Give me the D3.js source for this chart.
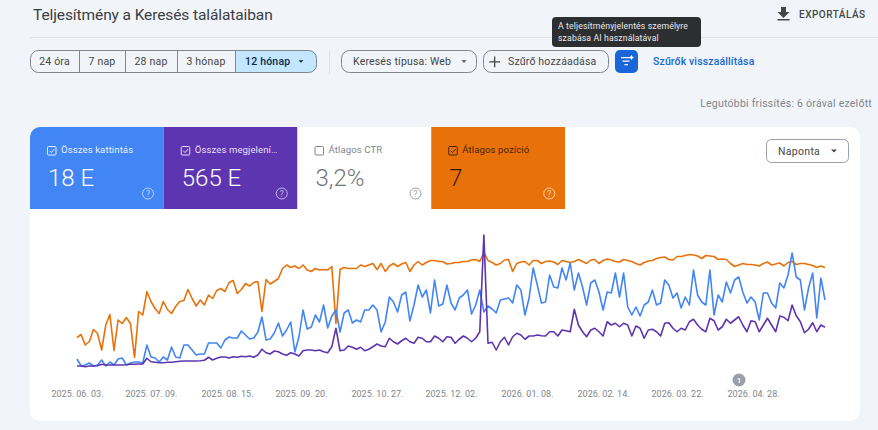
<!DOCTYPE html>
<html>
<head>
<meta charset="utf-8">
<script src="https://cdn.jsdelivr.net/npm/d3@7"></script>
<style>
html,body{margin:0;padding:0;background:#f1f4f9;overflow:hidden}
text{font-family:Roboto,sans-serif}
</style>
</head>
<body>
<svg id="report" width="878" height="430"></svg>
<script>
// Readings are taken every second day, starting on the first tick date.
const startDate = "2025. 06. 03.";
const stepDays = 2;
const tickLabels = ["2025. 06. 03.","2025. 07. 09.","2025. 08. 15.","2025. 09. 20.","2025. 10. 27.","2025. 12. 02.","2026. 01. 08.","2026. 02. 14.","2026. 03. 22.","2026. 04. 28."];

const clicks = [13,6,7,9,6,7,12,6,10,7,13,14,7,9,10,10,9,27,15,14,10,15,12,25,15,14,27,27,22,17,18,18,29,29,29,24,32,35,34,34,41,37,33,34,40,
55,32,33,39,49,36,42,50,20,35,62,43,45,57,50,67,44,56,62,40,59,62,49,52,50,62,62,67,62,40,50,75,70,60,77,80,51,67,87,75,82,59,92,66,68,87,
69,62,74,77,82,58,67,82,60,66,63,59,72,73,74,69,87,82,57,74,104,87,69,70,97,85,84,104,92,109,82,99,85,67,89,92,80,62,80,79,99,75,99,65,57,
65,56,67,70,82,67,69,92,87,74,79,64,75,67,102,77,70,67,102,57,77,70,90,79,92,95,80,69,75,70,52,79,79,69,64,89,84,97,119,95,92,62,84,99,54,94,72];

const impressions = [240,240,210,240,240,250,310,280,280,280,280,280,290,310,310,320,320,550,410,390,370,370,390,390,410,430,440,440,440,440,450,470,590,480,550,600,600,560,610,590,630,610,640,590,680,
910,770,720,840,810,720,670,770,720,640,850,880,880,850,880,810,770,1010,1750,850,880,1040,990,910,990,850,910,1010,1120,1040,1010,1350,1210,1120,1250,1350,1210,1150,1390,1350,1210,1210,1440,1350,1210,1410,
1390,1150,1310,1440,1350,1210,1350,1610,5480,1150,1190,880,1210,1390,1080,1410,1550,1480,1310,1440,1440,1480,1450,1440,1610,1610,1440,1680,1650,1610,2510,1880,1610,1410,1680,1750,1610,1440,2010,1880,1950,1810,1950,1880,1440,
1840,1750,1350,1680,1710,1610,1440,1950,1970,1750,1610,1750,1680,2010,2110,1880,1710,1610,2150,2050,1680,1810,2110,1950,2080,2210,1880,1610,2050,2010,1610,1880,2150,1880,1610,2240,2190,2050,2680,2250,2010,1570,1710,1970,1610,1880,1790];

const positions = [21.1,20.5,22.6,21.9,19.5,20.3,23.6,18.6,16.5,23.7,17.6,18.3,17.1,18.3,25.1,15.9,16.6,11.9,13.9,15.3,16.3,13.9,15.5,16.3,14.9,13.9,13.7,11.5,13.3,14.8,13.6,14.6,12.6,13.3,11.7,11.3,11.9,10.1,9.7,12.3,11.5,10.3,10.8,10.1,9.9,
15.9,9.5,10.4,9.9,9.3,7.3,6.6,7.1,6.8,7.3,6.6,7.6,7.9,7.3,7.6,7.5,7.6,6.9,18.3,7.5,7.1,7.3,7.3,7.3,6.6,6.9,6.6,6.3,7.5,6.3,7.9,6.8,6.3,6.9,6.4,6.1,7.9,6.6,5.9,6.6,6.1,5.7,5.7,5.9,5.9,6.4,
6.3,6.1,6.1,5.9,5.9,5.6,5.5,5.9,4.1,5.7,6.1,6.6,6.3,5.6,5.5,7.9,6.3,6,5.9,6.6,5.7,5.7,6.3,5.9,5.8,6,6.5,5.7,5.9,6.1,5.9,5.5,5.9,6.3,5.6,5.5,6.3,5.7,5.4,5.6,5.9,6,5.5,5.7,5.9,
6.3,6.6,6.1,5.8,5.7,5.3,5.1,5,5.5,5.6,4.9,4.9,4.7,4.5,4.6,4.8,5.3,4.7,4.8,4.9,5.5,5.4,5.5,6.3,6.9,6.6,6.3,6.5,6.5,6.6,6.8,6.3,6,6.6,6.4,6.2,6.8,6.1,5.9,6.5,6.3,6.3,6.5,6.7,7.1,6.8,7.1];

const metricCards = [
  {label:"Összes kattintás", value:"18 E", fill:"#4285f4", ink:"#fff", sub:"#e3edff", help:"#bcd4fb", checked:true},
  {label:"Összes megjelení…", value:"565 E", fill:"#5e35b1", ink:"#fff", sub:"#e6dff5", help:"#c9b8ea", checked:true},
  {label:"Átlagos CTR", value:"3,2%", fill:"#fff", ink:"#70757a", sub:"#80868b", help:"#9aa0a6", checked:false},
  {label:"Átlagos pozíció", value:"7", fill:"#e8710a", ink:"#3a1c02", sub:"#4a2403", help:"#fbd3ad", checked:true}
];
const rangeTabs = ["24 óra","7 nap","28 nap","3 hónap","12 hónap"];
const rangeEdges = [30,79,125,177,235,317];

const svg = d3.select("#report");
const parseDay = d3.timeParse("%Y. %m. %d.");
const first = parseDay(startDate);
const days = clicks.map((_, i) => d3.timeDay.offset(first, i * stepDays));

function label(x, y, s, size, fill, opts = {}) {
  return svg.append("text").attr("x", x).attr("y", y).attr("font-size", size).attr("fill", fill)
    .attr("text-anchor", opts.anchor || "start").attr("font-weight", opts.weight || 400)
    .attr("letter-spacing", opts.spacing || 0).text(s);
}
function outlined(x, y, w, h, r = 8) {
  return svg.append("rect").attr("x", x + .5).attr("y", y + .5).attr("width", w - 1).attr("height", h - 1)
    .attr("rx", r).attr("fill", "none").attr("stroke", "#80868b").attr("stroke-width", 1);
}
function caret(cx, cy, fill = "#444746", half = 3) {
  svg.append("path").attr("d", `M${cx - half},${cy - half / 2}h${2 * half}l${-half},${half}z`).attr("fill", fill);
}

// Page header
label(33, 20, "Teljesítmény a Keresés találataiban", 15.5, "#3c4043", {spacing:-.1});
svg.append("line").attr("x1", 30).attr("x2", 878).attr("y1", 37.5).attr("y2", 37.5).attr("stroke", "#dfe2e7");
svg.append("path").attr("d", "M781,7h5v5h3.5l-6,6l-6,-6h3.5z M777.5,19h12v1.5h-12z").attr("fill", "#444746");
label(799, 18, "EXPORTÁLÁS", 10, "#444746", {weight:500, spacing:.5});

// Date range selector
svg.append("path").attr("d", "M235,50H309a8,8 0 0 1 8,8V65a8,8 0 0 1 -8,8H235z").attr("fill", "#c2e7ff");
outlined(30, 50, 287, 23);
rangeEdges.slice(1, -1).forEach(x => svg.append("line").attr("x1", x + .5).attr("x2", x + .5).attr("y1", 50).attr("y2", 73).attr("stroke", "#80868b"));
rangeTabs.forEach((t, i) => {
  const last = i === rangeTabs.length - 1;
  label(last ? 245 : (rangeEdges[i] + rangeEdges[i + 1]) / 2, 65, t, 10.5, last ? "#0b2a4a" : "#444746", {anchor: last ? "start" : "middle", weight: last ? 500 : 400, spacing:.2});
});
caret(301, 61.5, "#0b2a4a", 2.5);
svg.append("line").attr("x1", 329.5).attr("x2", 329.5).attr("y1", 50).attr("y2", 74).attr("stroke", "#dfe2e7");

// Filters
outlined(341, 50, 136, 23);
label(353, 65, "Keresés típusa: Web", 10.5, "#444746", {spacing:.18});
caret(464, 61.5, "#444746", 2.5);
outlined(483, 50, 126, 23);
svg.append("path").attr("d", "M494,56.5h1.3v4.7h4.7v1.3h-4.7v4.7h-1.3v-4.7h-4.7v-1.3h4.7z").attr("fill", "#444746");
label(508, 65, "Szűrő hozzáadása", 10.5, "#444746", {spacing:.18});
svg.append("rect").attr("x", 615).attr("y", 50).attr("width", 23).attr("height", 23).attr("rx", 5).attr("fill", "#1a66d9");
svg.append("path").attr("d", "M621,57h10v1.3h-10z M622.5,60.5h7v1.3h-7z M624.5,64h3.5v1.3h-3.5z M631.5,55l.9,1.6l1.6,.9l-1.6,.9l-.9,1.6l-.9,-1.6l-1.6,-.9l1.6,-.9z").attr("fill", "#fff");
label(653, 65, "Szűrők visszaállítása", 10.5, "#1967d2", {weight:500, spacing:.13});

// Tooltip above the AI button
svg.append("rect").attr("x", 552).attr("y", 17).attr("width", 149).attr("height", 30).attr("rx", 4).attr("fill", "#2d2e30");
label(558, 29, "A teljesítményjelentés személyre", 8.7, "#e8eaed", {spacing:.12});
label(558, 41, "szabása AI használatával", 8.7, "#e8eaed", {spacing:.12});

label(872, 107, "Legutóbbi frissítés: 6 órával ezelőtt", 10.5, "#80868b", {anchor:"end", spacing:.24});

// Report panel
svg.append("rect").attr("x", 30).attr("y", 127).attr("width", 830).attr("height", 294).attr("rx", 10).attr("fill", "#fff");

// Metric cards
const cardX = d3.scaleBand().domain(d3.range(metricCards.length)).range([30, 565]);
metricCards.forEach((c, i) => {
  const x = cardX(i), w = cardX.bandwidth();
  if (i === 0) {
    svg.append("path").attr("d", `M${x},209V137a10,10 0 0 1 10,-10H${x + w}V209z`).attr("fill", c.fill);
  } else {
    svg.append("rect").attr("x", x).attr("y", 127).attr("width", w).attr("height", 82).attr("fill", c.fill);
  }
  svg.append("rect").attr("x", x + 17.5).attr("y", 146.5).attr("width", 8.5).attr("height", 8.5).attr("rx", 1)
    .attr("fill", "none").attr("stroke", c.sub);
  if (c.checked) {
    svg.append("path").attr("d", `M${x + 19.5},150.8l1.8,1.8l3.1,-3.6`).attr("fill", "none").attr("stroke", c.sub);
  }
  label(x + 31, 153, c.label, 9.6, c.sub, {spacing:.08});
  label(x + 18, 186, c.value, 24, c.ink, {weight:300});
  svg.append("circle").attr("cx", x + 118).attr("cy", 193.5).attr("r", 5.5).attr("fill", "none").attr("stroke", c.help);
  label(x + 118, 196.8, "?", 8.5, c.help, {anchor:"middle"});
});

// Granularity dropdown
svg.append("rect").attr("x", 766.5).attr("y", 139.5).attr("width", 82).attr("height", 23).attr("rx", 5).attr("fill", "#fff").attr("stroke", "#9aa0a6");
label(778, 155, "Naponta", 10.5, "#444746", {spacing:.3});
caret(834, 151);

// Trend chart: one shared date scale, one vertical scale per metric
const xScale = d3.scaleTime().domain([first, days[days.length - 1]]).range([77, 825]);
const yClicks = d3.scaleLinear().domain([0, 140]).range([372, 232]);
const yImpressions = d3.scaleLinear().domain([0, 5600]).range([372, 232]);
const yPosition = d3.scaleLinear().domain([0, 28]).range([232, 372]);

const series = [
  {values: positions, y: yPosition, color: "#e8710a"},
  {values: clicks, y: yClicks, color: "#4285f4"},
  {values: impressions, y: yImpressions, color: "#5e35b1"}
];
series.forEach(s => {
  const path = d3.line().x((_, i) => xScale(days[i])).y(d => s.y(d)).curve(d3.curveLinear);
  svg.append("path").attr("d", path(s.values)).attr("fill", "none").attr("stroke", s.color)
    .attr("stroke-width", 1.6).attr("stroke-linejoin", "round");
});

const axis = d3.axisBottom(xScale).tickValues(tickLabels.map(parseDay))
  .tickFormat(d3.timeFormat("%Y. %m. %d.")).tickSize(0).tickPadding(0);
const axisG = svg.append("g").attr("transform", "translate(0,391)").call(axis);
axisG.select(".domain").remove();
axisG.selectAll("text").attr("font-size", 9).attr("fill", "#80868b").attr("font-family", "Roboto,sans-serif");

// Annotation marker above the last tick
svg.append("circle").attr("cx", 739).attr("cy", 380).attr("r", 6.5).attr("fill", "#9aa0a6");
label(739, 383, "1", 8, "#fff", {anchor:"middle", weight:500});
</script>
</body>
</html>
